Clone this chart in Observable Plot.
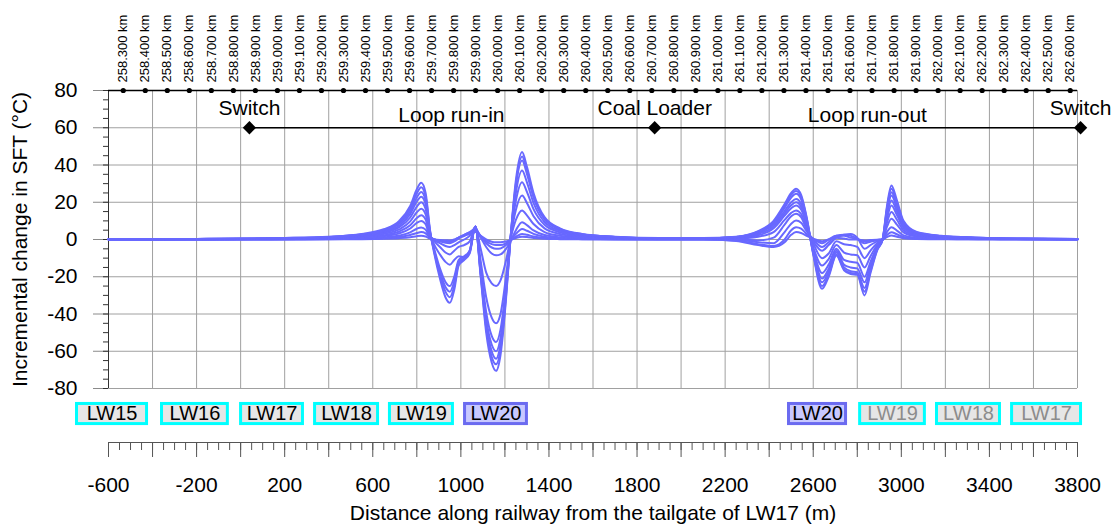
<!DOCTYPE html>
<html><head><meta charset="utf-8">
<script src="https://cdn.jsdelivr.net/npm/d3@7"></script>
<script src="https://cdn.jsdelivr.net/npm/@observablehq/plot@0.6"></script>
<style>
body{margin:0;background:#fff;}
#chart{width:1118px;height:532px;}
</style>
</head><body><div id="chart"></div>
<script>
// distance along railway from the tailgate of LW17 (m)
const distance = [-600, -400, -200, 0, 200, 400, 550, 650, 720, 770,
  800, 820, 840, 860, 880, 905, 930, 950, 970, 990,
  1015, 1040, 1066, 1090, 1115, 1140, 1160, 1180, 1205, 1225,
  1250, 1278, 1300, 1330, 1380, 1450, 1550, 1700, 1900, 2100,
  2250, 2350, 2420, 2470, 2500, 2522, 2545, 2570, 2600, 2640,
  2670, 2705, 2740, 2770, 2800, 2833, 2860, 2890, 2915, 2935,
  2955, 2980, 3010, 3070, 3180, 3350, 3550, 3800];

// incremental change in SFT (°C), one array per curve
const stage1 = [0, 0, 0, 0, 0, 0.1, 0.2, 0.4, 0.7, 1.2,
  1.8, 2, 1.6, 0.5, 0, -0.3, -0.4, -0.5, 0, 1,
  2, 3, 4, 2, 0, -1.2, -1.5, -1.5, -1, -0.3,
  0.8, 1.5, 1.3, 0.8, 0.4, 0.2, 0.1, 0, 0, 0,
  -0.8, -3, -4, -1.5, 2.5, 4, 3.5, 2, 0.5, -1,
  0, 1, 0.5, 0, 0, -0.5, -0.3, -0.1, 0, 1.3,
  2.1, 1.5, 0.7, 0.3, 0.1, 0.1, 0, 0];
const stage2 = [0, 0, 0, 0, 0.1, 0.2, 0.4, 0.7, 1.3, 2.4,
  3.5, 4, 3.3, 0.8, 0, -0.5, -0.8, -1, -0.3, 1,
  2.5, 3.8, 5, 2, -1, -2.5, -3, -3, -2, -0.5,
  1.5, 3, 2.5, 1.6, 0.8, 0.4, 0.2, 0.1, 0, 0,
  -0.5, -2.5, -3.5, 0, 5, 6.6, 5.8, 3, 0.5, -2,
  0, 2, 2, 1, 0.3, -1, -0.6, -0.2, 0, 2.4,
  3.9, 2.8, 1.3, 0.5, 0.3, 0.1, 0.1, 0];
const stage3 = [0, 0, 0, 0.1, 0.1, 0.3, 0.6, 1.2, 2.1, 3.8,
  5.8, 6.5, 5.3, 1, 0, -0.8, -1.3, -1.5, -0.5, 1,
  2.5, 4, 5.5, 1.5, -2, -4.3, -5, -4.8, -3, -0.5,
  3, 5.7, 4.7, 3, 1.5, 0.7, 0.4, 0.2, 0.1, 0.1,
  0, -1.5, -2, 4, 8.5, 10.2, 9, 4.5, 0, -4,
  -1.5, 2, 2.5, 2, 0.5, -2, -1.2, -0.4, 0, 4.1,
  6.6, 4.8, 2.2, 0.9, 0.5, 0.2, 0.1, 0];
const stage4 = [0, 0, 0.1, 0.1, 0.2, 0.5, 1, 1.8, 3.3, 5.9,
  8.9, 10, 8.2, 1.5, 0, -1, -1.8, -2, -1, 0.5,
  2, 3.5, 6, 1, -4, -7.5, -8.5, -8, -5, -1,
  5, 9.3, 7.7, 4.9, 2.4, 1.2, 0.6, 0.3, 0.2, 0.2,
  0.1, -0.5, 1, 8, 12.5, 13.8, 12, 5.5, -1, -6,
  -3, 1, 2.5, 3, 1, -5, -3, -1, 0, 6.9,
  11.1, 8, 3.8, 1.6, 0.8, 0.4, 0.2, 0.1];
const stage5 = [0, 0.1, 0.1, 0.2, 0.3, 0.6, 1.3, 2.3, 4.3, 7.7,
  11.5, 13, 10.7, 2, -0.5, -2, -3.5, -4, -3, -1.5,
  0, 2, 6.5, -5, -17.8, -23.5, -25, -22, -11.3, 0,
  10.6, 15.6, 13, 8.3, 4, 2, 1, 0.5, 0.3, 0.3,
  0.5, 1.5, 4, 10.5, 14.3, 15.6, 13.7, 6.8, -2, -10,
  -7.5, -1, -2.5, -3, -4, -10, -6, -2, 0, 9.1,
  14.7, 10.6, 5, 2.1, 1, 0.5, 0.3, 0.1];
const stage6 = [0.1, 0.1, 0.2, 0.3, 0.4, 0.8, 1.6, 3, 5.4, 9.7,
  14.6, 16.5, 13.5, 2.5, -1, -4, -7, -8, -6, -4,
  -3, -1, 7, -11.5, -31, -42, -45, -40, -20, 0,
  16, 23.6, 19.6, 12.5, 6, 3, 1.5, 0.8, 0.4, 0.4,
  0.8, 2.3, 6, 12.8, 16.8, 18.3, 16.1, 8, -4, -14,
  -10.5, -3, -7, -8, -8.5, -15, -9, -3, 0, 11.3,
  18.3, 13.2, 6.2, 2.6, 1.3, 0.6, 0.3, 0.2];
const stage7 = [0.1, 0.1, 0.2, 0.3, 0.5, 1, 2, 3.6, 6.6, 11.8,
  17.7, 20, 16.4, 3, -3, -8, -12, -13.5, -11, -9,
  -9.5, -6, 7, -15, -39, -51.7, -55, -48.4, -24.8, 0,
  20.9, 30.8, 25.6, 16.3, 7.9, 3.9, 2, 1, 0.5, 0.5,
  1, 3, 7, 14, 18.4, 20, 17.6, 8.8, -5.4, -18,
  -13.5, -5, -11, -12, -12.5, -20, -12, -4, 0, 13,
  21, 15.1, 7.1, 2.9, 1.5, 0.7, 0.4, 0.2];
const stage8 = [0.1, 0.2, 0.2, 0.4, 0.6, 1.1, 2.3, 4.1, 7.5, 13.6,
  20.4, 23, 18.9, 3.5, -5.5, -15.5, -22.8, -25, -20, -11,
  -9, -6, 7, -17, -42.6, -56.4, -60, -52.8, -27, 0,
  25.2, 37, 30.7, 19.6, 9.4, 4.7, 2.4, 1.2, 0.6, 0.6,
  1.2, 3.5, 8, 15.3, 20, 21.8, 19.2, 9.6, -6.3, -21,
  -15.8, -6, -13.5, -15, -15.5, -23, -13.8, -4.6, 0, 14.6,
  23.6, 17, 8, 3.3, 1.7, 0.8, 0.4, 0.2];
const stage9 = [0.1, 0.2, 0.3, 0.4, 0.7, 1.3, 2.5, 4.6, 8.4, 15,
  22.6, 25.5, 21, 4, -6.5, -17.4, -25.5, -28, -22.4, -12,
  -10, -6.5, 7, -18, -45, -60, -64, -56, -29, 0,
  28.8, 42.4, 35.2, 22.5, 10.8, 5.4, 2.7, 1.4, 0.6, 0.6,
  1.3, 3.9, 9, 17, 22.5, 24.5, 21.6, 10.8, -7, -23,
  -17.3, -7, -15, -17, -17.5, -26, -15.6, -5.2, 0, 15.7,
  25.4, 18.3, 8.6, 3.6, 1.8, 0.9, 0.4, 0.3];
const stage10 = [0.1, 0.2, 0.3, 0.5, 0.8, 1.4, 2.8, 5, 9.2, 16.5,
  24.8, 28, 23, 4.5, -7, -19, -28, -31, -25, -13,
  -10.5, -7, 7, -19, -47.5, -63, -67, -59, -30.5, 0,
  30, 44.5, 37, 23.6, 11.3, 5.7, 2.8, 1.4, 0.7, 0.7,
  1.4, 4.2, 9.5, 18, 24, 26, 23, 11.5, -7.5, -25,
  -19, -8, -16, -18, -18.5, -28, -17, -5.6, 0, 17,
  27.2, 19.6, 9.2, 3.8, 1.9, 1, 0.5, 0.3];
const stage11 = [0.1, 0.2, 0.3, 0.5, 0.8, 1.5, 3, 5.5, 10, 18,
  27, 30.5, 25, 5, -8, -21, -31, -34, -27, -14,
  -11, -7.5, 7, -20, -50, -66, -70.5, -62, -32, 0,
  32, 47, 39, 25, 12, 6, 3, 1.5, 0.8, 0.8,
  1.5, 4.5, 10, 19, 25, 27.3, 24, 12, -8, -26.5,
  -20, -8.6, -16.5, -18.5, -19, -30, -18, -6, 0, 18,
  29, 21, 10, 4, 2, 1, 0.5, 0.3];

// railway chainage tick labels (km) and their offset to the distance axis
const kmTicks = d3.range(2583, 2627).map(v => v / 10);
const kmAtZero = 258.833;

// railway features
const stationNames = ["Switch", "Coal Loader", "Switch"];
const stationDist = [40, 1880, 3814];
const sectionNames = ["Loop run-in", "Loop run-out"];
const sectionDist = [957, 2846];

// longwall panel labels
const lwNames = ["LW15", "LW16", "LW17", "LW18", "LW19", "LW20", "LW20", "LW19", "LW18", "LW17"];
const lwStart = [-743, -357, 2, 338, 678, 1019, 2490, 2813, 3162, 3503];
const lwEnd = [-425, -58, 283, 624, 964, 1300, 2749, 3107, 3448, 3816];
const lwState = ["mined", "mined", "mined", "mined", "mined", "active", "active", "future", "future", "future"];

const stages = [stage1, stage2, stage3, stage4, stage5, stage6, stage7, stage8, stage9, stage10, stage11];
stages.forEach((s, k) => { if (s.length !== distance.length) throw new Error("stage" + (k + 1) + " length " + s.length); });
const rows = stages.flatMap((vals, k) => distance.map((x, i) => ({stage: k + 1, x, y: vals[i]})));
const kmRows = kmTicks.map(km => ({x: (km - kmAtZero) * 1000, label: km.toFixed(3) + " km"}));
const lwRows = lwNames.map((name, i) => ({name, x1: lwStart[i], x2: lwEnd[i], state: lwState[i]}));

const lineColor = "#6868ff";
const gridColor = "#a0a0a0";
const fs = 21;

const chart = Plot.plot({
  width: 1118, height: 532,
  marginTop: 90, marginBottom: 144, marginLeft: 108, marginRight: 41,
  x: {domain: [-600, 3800], axis: null},
  y: {domain: [-80, 80], axis: null},
  style: {fontFamily: "'Liberation Sans', Arial, sans-serif", fontSize: "20px", background: "white", color: "black"},
  marks: [
    Plot.gridX(d3.range(-400, 3801, 200), {stroke: gridColor, strokeOpacity: 1}),
    Plot.gridY(d3.range(-80, 61, 20), {stroke: gridColor, strokeOpacity: 1}),
    Plot.axisY({ticks: d3.range(-80, 81, 20), tickSize: 15, tickPadding: 16, fontSize: fs, stroke: "#8a8a8a", fill: "black", tickFormat: d => String(d), label: null}),
    Plot.axisY({ticks: d3.range(-80, 81, 5), tickSize: 5, tickFormat: () => "", stroke: "#333", label: null}),
    Plot.ruleX([-600], {stroke: "#333"}),
    // bottom distance axis (below the panel labels)
    Plot.ruleY([-80], {dy: 54, stroke: "#555"}),
    Plot.axisX({ticks: d3.range(-600, 3801, 200), tickSize: 15, dy: 54, tickPadding: 20, fontSize: fs, stroke: "#555", fill: "black",
      tickFormat: d => ((d + 600) % 400 === 0 ? String(d) : ""), label: null}),
    Plot.axisX({ticks: d3.range(-600, 3801, 50), tickSize: 8, dy: 54, tickFormat: () => "", stroke: "#555", label: null}),
    Plot.text(["Distance along railway from the tailgate of LW17 (m)"], {text: d => d, frameAnchor: "bottom", dy: 131, fontSize: fs}),
    Plot.text(["Incremental change in SFT (°C)"], {text: d => d, frameAnchor: "left", textAnchor: "middle", dx: -88, rotate: -90, fontSize: fs}),
    // chainage line on top
    Plot.ruleY([80], {stroke: "black", strokeWidth: 1.3}),
    Plot.dot(kmRows, {x: "x", y: 80, r: 2.6, fill: "black", stroke: "none"}),
    Plot.text(kmRows, {x: "x", y: 80, text: "label", rotate: -90, textAnchor: "start", dy: -8, fontSize: 13}),
    // railway features
    Plot.ruleY([60], {x1: stationDist[0], x2: stationDist[2], stroke: "black", strokeWidth: 1.6}),
    Plot.dot(stationDist, {x: d => d, y: 60, symbol: "diamond2", r: 6, fill: "black", stroke: "none"}),
    Plot.text(stationNames, {x: (d, i) => stationDist[i], y: 70.3, text: d => d, fontSize: fs}),
    Plot.text(sectionNames, {x: (d, i) => sectionDist[i], y: 66.6, text: d => d, fontSize: fs}),
    // SFT curves
    Plot.line(rows, {x: "x", y: "y", z: "stage", stroke: lineColor, strokeWidth: 2, curve: "monotone-x"}),
    // longwall panel labels
    Plot.rect(lwRows, {x1: "x1", x2: "x2", y1: -88.3, y2: -99.1,
      fill: d => d.state === "active" ? "#c8c8ff" : "#e6e6e6",
      stroke: d => d.state === "active" ? "#6b6bf0" : "#00ffff", strokeWidth: 3}),
    Plot.text(lwRows, {x: d => (d.x1 + d.x2) / 2, y: -93.7, text: "name", fontSize: 20,
      fill: d => d.state === "future" ? "#8c8c8c" : "black"})
  ]
});
document.getElementById("chart").append(chart);
</script>
</body></html>
